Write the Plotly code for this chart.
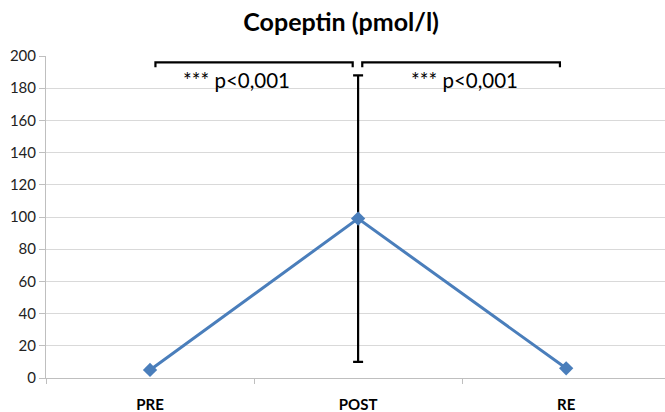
import plotly.graph_objects as go

categories = ["PRE", "POST", "RE"]
copeptin = [5, 99, 6]
copeptin_err = [0, 89, 0]
comparisons = [(0, 1), (1, 2)]
comparison_labels = ["*** p<0,001", "*** p<0,001"]
y_ticks = list(range(0, 201, 20))

xpos = list(range(len(categories)))

fig = go.Figure()
fig.add_trace(go.Scatter(
    x=xpos, y=copeptin,
    mode="lines+markers",
    line=dict(color="#4a7ebb", width=3),
    marker=dict(symbol="diamond", size=11, color="#4a7ebb"),
    error_y=dict(type="data", array=copeptin_err, visible=True,
                 color="black", thickness=2.2, width=5),
    showlegend=False,
))

bracket_y = 196
tick_drop = 3
inset = 0.026
label_x = [0.415, 1.51]
for (a, b), lab, lx in zip(comparisons, comparison_labels, label_x):
    x0, x1 = a + inset, b - inset
    if a == 1:
        x0 = a + 0.02
        x1 = b - 0.03
    fig.add_shape(type="path",
                  path=f"M {x0},{bracket_y - tick_drop} L {x0},{bracket_y} L {x1},{bracket_y} L {x1},{bracket_y - tick_drop}",
                  line=dict(color="black", width=2.2), xref="x", yref="y")
    fig.add_annotation(x=lx, y=185, text=lab, showarrow=False,
                       font=dict(family="Lato, Open Sans, sans-serif", size=20.5, color="black"),
                       xref="x", yref="y")

fig.update_layout(
    width=665, height=412,
    margin=dict(l=46, r=0, t=56, b=34),
    paper_bgcolor="white", plot_bgcolor="white",
    title=dict(text="<b>Copeptin (pmol/l)</b>", x=0.513, xanchor="center",
               y=0.945, yanchor="middle",
               font=dict(family="Lato, Open Sans, sans-serif", size=25, color="black")),
)
fig.update_xaxes(
    range=[-0.5, 2.475],
    tickvals=xpos, ticktext=[f"<b>{c}</b>" for c in categories],
    ticks="", showgrid=False, zeroline=False,
    showline=True, linecolor="#bfbfbf", linewidth=1,
    ticklabelstandoff=13,
    tickfont=dict(family="Lato, Open Sans, sans-serif", size=15, color="black"),
    minor=dict(tickvals=[-0.5, 0.5, 1.5, 2.5], ticks="outside", ticklen=5,
               tickcolor="#bfbfbf", showgrid=False),
)
fig.update_yaxes(
    range=[0, 200], tickvals=y_ticks,
    showgrid=True, gridcolor="#d9d9d9", gridwidth=1,
    zeroline=False, showline=True, linecolor="#bfbfbf", linewidth=1,
    ticks="outside", ticklen=6, tickcolor="#bfbfbf",
    tickfont=dict(family="Lato, Open Sans, sans-serif", size=15, color="#222222"),
)

fig.write_html("out.html")
